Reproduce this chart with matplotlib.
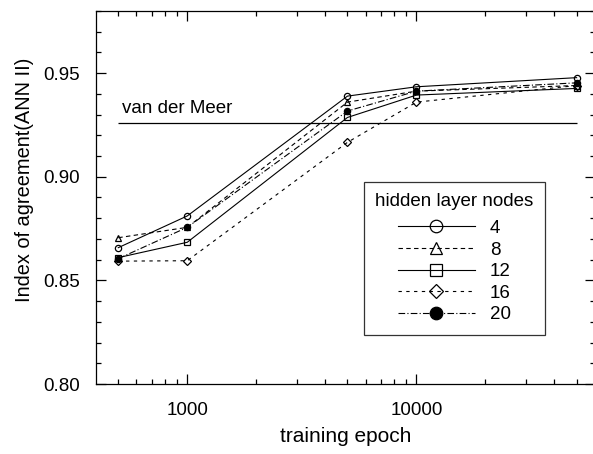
import numpy as np
import matplotlib
matplotlib.use("Agg")
import matplotlib.pyplot as plt
from matplotlib.ticker import FixedLocator, FixedFormatter, MultipleLocator, NullFormatter

plt.rcParams['font.family'] = ['Liberation Sans', 'DejaVu Sans']
plt.rcParams['font.size'] = 13

epochs = [500, 1000, 5000, 10000, 50000]
nodes = ['4', '8', '12', '16', '20']
ia_4 = [0.8658, 0.8811, 0.9389, 0.9434, 0.9478]
ia_8 = [0.8706, 0.8756, 0.9360, 0.9413, 0.9440]
ia_12 = [0.8610, 0.8684, 0.9286, 0.9394, 0.9426]
ia_16 = [0.8593, 0.8595, 0.9166, 0.9360, 0.9440]
ia_20 = [0.8605, 0.8756, 0.9317, 0.9413, 0.9453]
van_der_meer = 0.926

series = [ia_4, ia_8, ia_12, ia_16, ia_20]
styles = [('-', 'o', 'none'), ((0, (4, 3)), '^', 'none'), ('-', 's', 'none'),
          ((0, (3, 4)), 'D', 'none'), ((0, (6, 2, 1, 2)), 'o', 'black')]

fig = plt.figure(figsize=(5.93, 4.54), dpi=100)
ax = fig.add_axes([0.162, 0.154, 0.841, 0.822])

for vals, lab, (ls, mk, fc) in zip(series, nodes, styles):
    ms = 3.6 if mk == 'D' else 4.5
    ax.plot(epochs, vals, color='black', linestyle=ls, linewidth=0.8,
            marker=mk, markersize=ms, markerfacecolor=fc, markeredgecolor='black',
            markeredgewidth=0.9, label=lab)

ax.hlines(van_der_meer, 500, 50000, color='black', linewidth=0.9)
ax.text(520, van_der_meer + 0.003, 'van der Meer', fontsize=13.5, va='bottom')

ax.set_xscale('log')
ax.set_xlim(400, 60000)
ax.set_ylim(0.80, 0.98)
ax.xaxis.set_major_locator(FixedLocator([1000, 10000]))
ax.xaxis.set_major_formatter(FixedFormatter(['1000', '10000']))
ax.xaxis.set_minor_locator(FixedLocator([500, 600, 700, 800, 900, 2000, 3000, 4000, 5000,
                                         6000, 7000, 8000, 9000, 20000, 30000, 40000, 50000]))
ax.xaxis.set_minor_formatter(NullFormatter())
ax.yaxis.set_major_locator(MultipleLocator(0.05))
ax.yaxis.set_minor_locator(MultipleLocator(0.01))
ax.yaxis.set_major_formatter(plt.FuncFormatter(lambda v, p: '%.2f' % v))
ax.tick_params(which='both', direction='in', top=True, right=True, labelsize=13.5, width=0.9)
ax.tick_params(which='major', length=7)
ax.tick_params(which='minor', length=3.5)
ax.tick_params(axis='x', which='major', pad=13)
ax.tick_params(axis='y', which='major', pad=11.5)
for s in ax.spines.values():
    s.set_linewidth(0.9)

ax.set_xlabel('training epoch', fontsize=15, labelpad=6)
ax.set_ylabel('Index of agreement(ANN II)', fontsize=14.4)
ax.yaxis.set_label_coords(-0.125, 0.547)

leg = ax.legend(title='hidden layer nodes', loc='upper left', bbox_to_anchor=(0.537, 0.542),
                fontsize=13.5, title_fontsize=13.5, markerscale=2.0, handlelength=4.1,
                labelspacing=0.24, handletextpad=0.8, frameon=True, fancybox=False,
                edgecolor='black', borderpad=0.6, borderaxespad=0)
leg.get_frame().set_linewidth(0.9)
leg._legend_box.sep = 7

fig.savefig('out.png', dpi=100)
